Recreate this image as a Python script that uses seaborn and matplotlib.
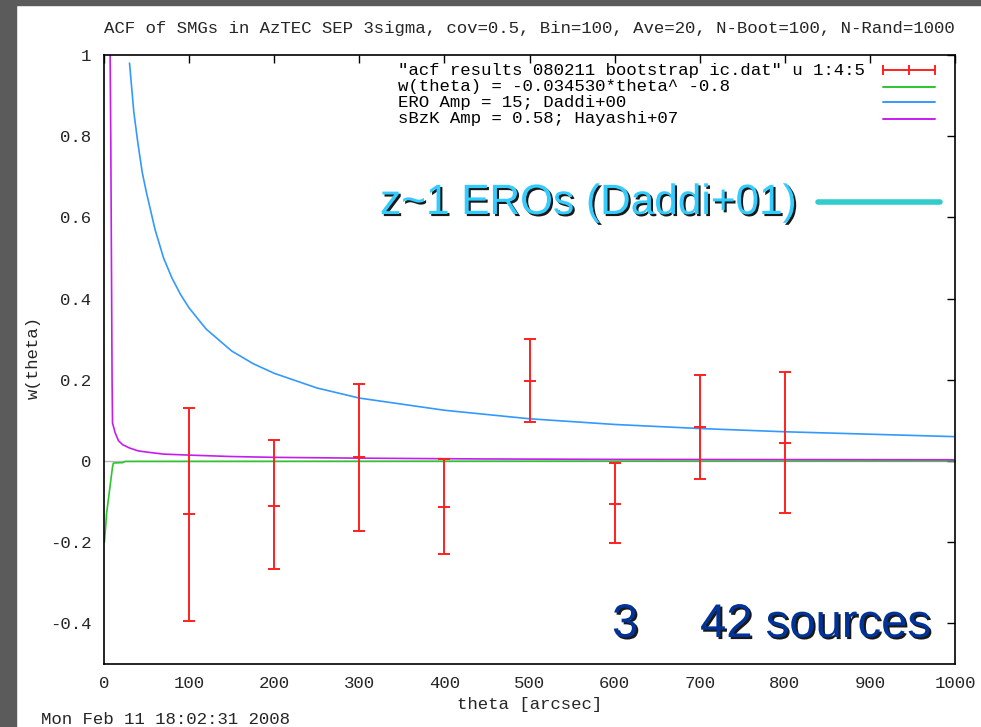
import numpy as np
import matplotlib
matplotlib.use("Agg")
import matplotlib.pyplot as plt
import matplotlib.patheffects as pe
from matplotlib.lines import Line2D
from matplotlib.patches import Rectangle
import seaborn as sns

# --- Data ---
# bootstrap ACF points (theta in arcsec)
acf_theta = [100, 200, 300, 400, 500, 600, 700, 800]
acf_w = [-0.130, -0.110, 0.010, -0.113, 0.197, -0.106, 0.084, 0.044]
acf_lo = [-0.394, -0.266, -0.172, -0.229, 0.096, -0.202, -0.044, -0.128]
acf_hi = [0.130, 0.052, 0.190, 0.005, 0.300, -0.005, 0.212, 0.219]

# fitted power law w(theta) = -0.034530*theta^-0.8
fit_theta = [0.5, 2, 3, 7, 10, 11, 22, 25, 1000]
fit_w = [-0.200, -0.160, -0.130, -0.064, -0.015, -0.005, -0.004, -0.001, 0.0]

# ERO amplitude 15, Daddi+00
ero_theta = [30, 35, 40, 45, 50, 60, 70, 80, 90, 100, 120, 150, 175, 200, 250,
             300, 400, 500, 600, 700, 800, 900, 1000]
ero_w = [0.98, 0.86, 0.78, 0.71, 0.66, 0.57, 0.50, 0.45, 0.41, 0.377, 0.325,
         0.271, 0.24, 0.216, 0.18, 0.155, 0.125, 0.104, 0.090, 0.080, 0.072,
         0.066, 0.060]

# sBzK amplitude 0.58, Hayashi+07
bzk_theta = [7, 8, 9.5, 10, 13, 17, 22, 30, 40, 50, 70, 100, 150, 200, 300,
             450, 600, 800, 1000]
bzk_w = [1.05, 0.78, 0.20, 0.094, 0.07, 0.05, 0.040, 0.032, 0.025, 0.022,
         0.017, 0.0145, 0.011, 0.009, 0.007, 0.005, 0.004, 0.0035, 0.003]

x_ticks = [0, 100, 200, 300, 400, 500, 600, 700, 800, 900, 1000]
y_ticks = [-0.4, -0.2, 0, 0.2, 0.4, 0.6, 0.8, 1]
y_ticklabels = ["-0.4", "-0.2", "0", "0.2", "0.4", "0.6", "0.8", "1"]

legend_labels = ['"acf results 080211 bootstrap ic.dat" u 1:4:5',
                 "w(theta) = -0.034530*theta^ -0.8",
                 "ERO Amp = 15; Daddi+00",
                 "sBzK Amp = 0.58; Hayashi+07"]

RED = "#ff2020"
GREEN = "#2ec52e"
BLUE = "#3399ff"
MAGENTA = "#c61cf0"
MONO = "Liberation Mono"
FS = 12.5

sns.set_style("white")
plt.rcParams["font.family"] = [MONO, "DejaVu Sans Mono"]

W, H = 981, 727
fig = plt.figure(figsize=(W / 100, H / 100), dpi=100)
fig.patch.set_facecolor("white")
# grey frame of the slide
fig.add_artist(Rectangle((0, 0), 16 / W, 1, transform=fig.transFigure,
                         color="#5b5b5b", zorder=0))
fig.add_artist(Rectangle((0, 1 - 5 / H), 1, 5 / H, transform=fig.transFigure,
                         color="#5b5b5b", zorder=0))

ax = fig.add_axes([104 / W, 1 - 664 / H, 851 / W, 609 / H])

ax.axhline(0, color="#b8b8b8", lw=1.0, zorder=0)
sns.lineplot(x=fit_theta, y=fit_w, ax=ax, color=GREEN, lw=1.2,
             estimator=None, sort=False)
sns.lineplot(x=ero_theta, y=ero_w, ax=ax, color=BLUE, lw=1.2,
             estimator=None, sort=False)
sns.lineplot(x=bzk_theta, y=bzk_w, ax=ax, color=MAGENTA, lw=1.2,
             estimator=None, sort=False)

w = np.array(acf_w)
yerr = [w - np.array(acf_lo), np.array(acf_hi) - w]
ax.errorbar(acf_theta, acf_w, yerr=yerr, fmt="_", color=RED, ms=8, mew=1.4,
            elinewidth=1.4, capsize=4, capthick=1.4, zorder=5)

ax.set_xlim(0, 1000)
ax.set_ylim(-0.5, 1)
ax.set_xticks(x_ticks)
ax.set_yticks(y_ticks)
ax.set_yticklabels(y_ticklabels)
ax.tick_params(direction="in", length=6, width=1, color="black",
               top=True, right=True, labelsize=FS, pad=9)
for sp in ax.spines.values():
    sp.set_color("black")
    sp.set_linewidth(1.2)
ax.set_xlabel("")
ax.set_ylabel("")

# gnuplot-style key, text left-aligned and samples at right
key_rows = [1 - 15 / 609, 1 - 31.5 / 609, 1 - 47 / 609, 1 - 63.5 / 609]
key_colors = [RED, GREEN, BLUE, MAGENTA]
for yk, lab, col in zip(key_rows, legend_labels, key_colors):
    ax.text(0.3455, yk, lab, transform=ax.transAxes, ha="left", va="center",
            fontsize=FS, color="black")
    ax.add_line(Line2D([0.9154, 0.9765], [yk, yk], transform=ax.transAxes,
                       color=col, lw=1.4))
ax.add_line(Line2D([0.9154, 0.946, 0.9765], [key_rows[0]] * 3,
                   transform=ax.transAxes, color=RED, lw=0, marker="|",
                   ms=7, mew=1.4))

fig.text(529.5 / W, 1 - 28 / H, "ACF of SMGs in AzTEC SEP 3sigma, cov=0.5, "
         "Bin=100, Ave=20, N-Boot=100, N-Rand=1000",
         ha="center", va="center", fontsize=FS)
fig.text(530 / W, 1 - 705 / H, "theta [arcsec]", ha="center", va="center",
         fontsize=FS)
fig.text(33 / W, 1 - 357 / H, "w(theta)", ha="center", va="center",
         rotation=90, fontsize=FS)
fig.text(41 / W, 1 - 720 / H, "Mon Feb 11 18:02:31 2008", ha="left",
         va="center", fontsize=FS)

# slide annotations
shadow = [pe.SimplePatchShadow(offset=(1.5, -1.5), shadow_rgbFace="black",
                               alpha=0.9), pe.Normal()]
fig.text(380 / W, 1 - 214 / H, "z~1 EROs (Daddi+01)", ha="left",
         va="baseline", fontsize=30.5, family="Liberation Sans",
         color="#33ccff", path_effects=shadow)
fig.add_artist(Line2D([818 / W, 940 / W], [1 - 202 / H, 1 - 202 / H],
                      transform=fig.transFigure, color="#33cccc", lw=4))
fig.text(612 / W, 1 - 637 / H, "3", ha="left", va="baseline", fontsize=34,
         family="Liberation Sans", color="#003399", path_effects=shadow)
fig.text(700 / W, 1 - 637 / H, "42 sources", ha="left", va="baseline",
         fontsize=34, family="Liberation Sans", color="#003399",
         path_effects=shadow)

fig.savefig("out.png", dpi=100)
